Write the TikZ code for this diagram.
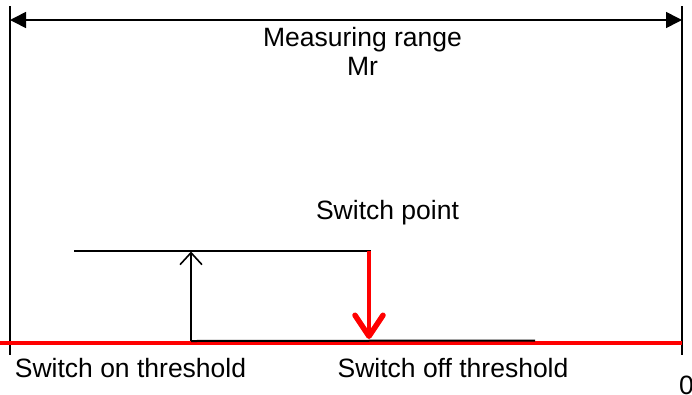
\documentclass[tikz,border=0pt]{standalone}
\usepackage{fontspec}
\setmainfont{Liberation Sans}
\usetikzlibrary{arrows.meta}
\definecolor{myred}{RGB}{255,0,0}
\tikzset{
  lbl/.style={inner sep=0pt, anchor=base, font=\fontsize{26.5}{30}\selectfont},
  blk/.style={line width=2pt, black},
  redline/.style={line width=3.5pt, myred},
}
\begin{document}
\begin{tikzpicture}[x=1pt,y=-1pt]
\useasboundingbox (0,0) rectangle (692,394);
% coordinates
\coordinate (LT) at (10,6);
\coordinate (LB) at (10,355);
\coordinate (RT) at (682,6);
\coordinate (RB) at (682,355);
\coordinate (AL) at (10,20);
\coordinate (AR) at (682,20);
\coordinate (R0) at (0,343);
\coordinate (R1) at (682,343);
\coordinate (H1a) at (74,250.5);
\coordinate (H1b) at (370.5,250.5);
\coordinate (V1a) at (191,341);
\coordinate (V1b) at (191,251.5);
\coordinate (H2b) at (535,340.5);
\coordinate (RVa) at (369,251);
\coordinate (RVb) at (369,339);
% frame lines
\draw[line width=2pt] (LT) -- (LB);
\draw[line width=2pt] (RT) -- (RB);
\draw[line width=1.6pt, {Triangle[length=16pt,width=16pt]}-{Triangle[length=16pt,width=16pt]}] (AL) -- (AR);
% red base line
\draw[redline] (R0) -- (R1);
% step lines
\draw[blk] (H1a) -- (H1b);
\draw[blk] (V1a) -- (H2b);
\draw[line width=1.6pt, -{Straight Barb[length=12pt,width=22pt]}] (V1a) -- (V1b);
\draw[line width=4.5pt, myred, line cap=butt, -{Straight Barb[length=21pt,width=28pt,line width=5.5pt,line cap=round,round]}] (RVa) -- (RVb);
% labels
\node[lbl] (mr1) at (362.5,46) {Measuring range};
\node[lbl] (mr2) at (362.5,75) {Mr};
\node[lbl] (sp) at (387.5,219) {Switch point};
\node[lbl] (son) at (130.5,377.5) {Switch on threshold};
\node[lbl] (soff) at (453,377.5) {Switch off threshold};
\node[lbl, anchor=base west] (zero) at (679,394) {0};
\end{tikzpicture}
\end{document}
